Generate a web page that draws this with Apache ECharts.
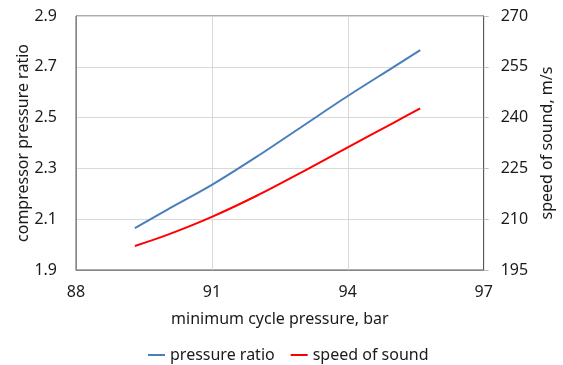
<!DOCTYPE html>
<html>
<head>
<meta charset="utf-8">
<script src="https://cdn.jsdelivr.net/npm/echarts@6/dist/echarts.min.js"></script>
<style>
  html, body { margin: 0; padding: 0; background: #fff; }
  #chart { width: 563px; height: 365px; }
</style>
</head>
<body>
<div id="chart"></div>
<script>
// Minimum cycle pressure (bar) on the x axis
const pressure = [89.3, 90, 91, 92, 93, 94, 95, 95.6];
// Compressor pressure ratio (left axis)
const pressureRatio = [2.065, 2.136, 2.235, 2.347, 2.466, 2.585, 2.698, 2.766];
// Speed of sound, m/s (right axis)
const soundSpeed = [202.1, 205.3, 210.7, 217.0, 224.0, 231.2, 238.4, 242.7];

const seriesNames = ['pressure ratio', 'speed of sound'];

const FONT = 'Noto Sans';
const TEXT = '#1a1a1a';
const SIZE = 16;

const pairs = (xs, ys) => xs.map((x, i) => [x, ys[i]]);

const chart = echarts.init(document.getElementById('chart'), null, { renderer: 'canvas' });

chart.setOption({
  animation: false,
  backgroundColor: '#ffffff',
  textStyle: { fontFamily: FONT, color: TEXT },
  grid: {
    left: 76, right: 76, top: 16, bottom: 95,
    show: true, borderColor: '#595959', borderWidth: 1, backgroundColor: 'transparent'
  },
  legend: {
    data: seriesNames,
    left: 143, top: 342,
    icon: 'rect', itemWidth: 17, itemHeight: 2, itemGap: 16,
    textStyle: { fontFamily: FONT, fontSize: SIZE, color: TEXT }
  },
  xAxis: {
    type: 'value',
    min: 88, max: 97, interval: 3,
    name: 'minimum cycle pressure, bar',
    nameLocation: 'middle', nameGap: 41,
    nameTextStyle: { fontFamily: FONT, fontSize: SIZE, color: TEXT },
    axisLine: { show: true, lineStyle: { color: '#868686', width: 1 } },
    axisTick: { show: false },
    axisLabel: { margin: 14, fontFamily: FONT, fontSize: SIZE, color: TEXT },
    splitLine: { show: true, lineStyle: { color: '#d9d9d9', width: 1 } }
  },
  yAxis: [
    {
      type: 'value',
      position: 'left',
      min: 1.9, max: 2.9, interval: 0.2,
      name: 'compressor pressure ratio',
      nameLocation: 'middle', nameGap: 45, nameRotate: 90,
      nameMoveOverlap: false,
      nameTextStyle: { fontFamily: FONT, fontSize: SIZE, color: TEXT },
      axisLine: { show: true, lineStyle: { color: '#868686', width: 1 } },
      axisTick: { show: false },
      axisLabel: { margin: 19, fontFamily: FONT, fontSize: SIZE, color: TEXT,
        formatter: v => v.toFixed(1) },
      splitLine: { show: true, lineStyle: { color: '#d9d9d9', width: 1 } }
    },
    {
      type: 'value',
      position: 'right',
      min: 195, max: 270, interval: 15,
      name: 'speed of sound, m/s',
      nameLocation: 'middle', nameGap: 51, nameRotate: 90,
      nameTextStyle: { fontFamily: FONT, fontSize: SIZE, color: TEXT },
      axisLine: { show: true, lineStyle: { color: '#595959', width: 1 } },
      axisTick: { show: true, length: 5, inside: false, lineStyle: { color: '#bfbfbf' } },
      axisLabel: { margin: 17, fontFamily: FONT, fontSize: SIZE, color: TEXT },
      splitLine: { show: false }
    }
  ],
  series: [
    {
      name: seriesNames[0],
      type: 'line',
      yAxisIndex: 0,
      data: pairs(pressure, pressureRatio),
      smooth: 0.3,
      showSymbol: false,
      lineStyle: { color: '#4a7ebb', width: 2 },
      itemStyle: { color: '#4a7ebb' }
    },
    {
      name: seriesNames[1],
      type: 'line',
      yAxisIndex: 1,
      data: pairs(pressure, soundSpeed),
      smooth: 0.3,
      showSymbol: false,
      lineStyle: { color: '#ff0000', width: 2 },
      itemStyle: { color: '#ff0000' }
    }
  ]
});
</script>
</body>
</html>
